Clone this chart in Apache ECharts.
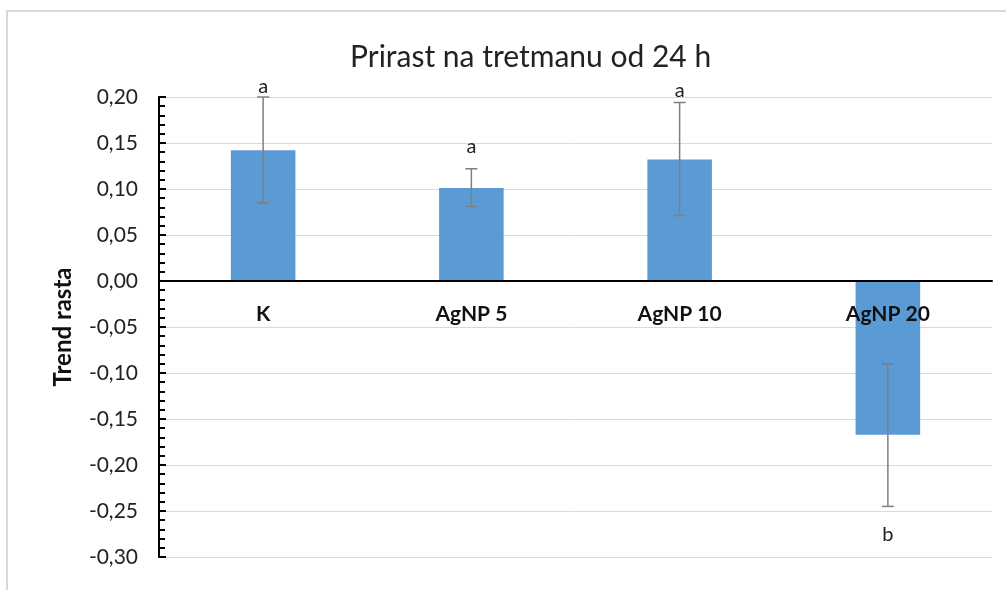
<!DOCTYPE html>
<html>
<head>
<meta charset="utf-8">
<script src="https://cdn.jsdelivr.net/npm/echarts@6/dist/echarts.min.js"></script>
<style>
  html, body { margin: 0; padding: 0; background: #fff; }
  #main { width: 1006px; height: 590px; }
</style>
</head>
<body>
<div id="main"></div>
<script>
const categories = ["K", "AgNP 5", "AgNP 10", "AgNP 20"];
const trendValues = [0.142, 0.101, 0.132, -0.167];
const errLow = [0.085, 0.081, 0.071, -0.245];
const errHigh = [0.200, 0.122, 0.194, -0.090];
const letters = ["a", "a", "a", "b"];
const letterPos = [0.211, 0.146, 0.207, -0.276];

const FONT = "Lato";
const fmt = v => v.toFixed(2).replace(".", ",");

const chartDom = document.getElementById("main");
const myChart = echarts.init(chartDom, null, { renderer: "canvas" });

const option = {
  animation: false,
  backgroundColor: "#fff",
  textStyle: { fontFamily: FONT },
  title: {
    text: "Prirast na tretmanu od 24 h",
    left: 345,
    top: 37,
    textStyle: { fontFamily: FONT, fontSize: 30, fontWeight: "normal", color: "#222" }
  },
  graphic: [{
    type: "rect",
    shape: { x: 7, y: 11, width: 1100, height: 700 },
    style: { fill: "none", stroke: "#d9d9d9", lineWidth: 2 },
    silent: true
  }],
  grid: { left: 159, right: 14, top: 97, bottom: 33, containLabel: false, outerBoundsMode: "none" },
  xAxis: {
    type: "category",
    data: categories,
    z: 10,
    axisLine: { onZero: true, lineStyle: { color: "#000", width: 2 } },
    axisTick: { show: false },
    axisLabel: { show: false }
  },
  yAxis: {
    type: "value",
    min: -0.3,
    max: 0.2,
    interval: 0.05,
    name: "Trend rasta",
    nameLocation: "middle",
    nameGap: 84,
    nameTextStyle: { fontFamily: FONT, fontSize: 24, fontWeight: "bold", color: "#111" },
    axisLine: { show: true, lineStyle: { color: "#000", width: 2 } },
    axisTick: { show: true, inside: true, length: 7, lineStyle: { color: "#000", width: 2 } },
    minorTick: { show: true, splitNumber: 5, length: 6, lineStyle: { color: "#000", width: 2 } },
    splitLine: { lineStyle: { color: "#d9d9d9", width: 1 } },
    axisLabel: { margin: 21, fontFamily: FONT, fontSize: 21, color: "#222", formatter: fmt }
  },
  series: [
    {
      type: "bar",
      data: trendValues,
      barWidth: "31%",
      itemStyle: { color: "#5b9bd5" }
    },
    {
      type: "custom",
      z: 5,
      data: categories.map((c, i) => [i, errLow[i], errHigh[i]]),
      renderItem: function (params, api) {
        const lo = api.coord([api.value(0), api.value(1)]);
        const hi = api.coord([api.value(0), api.value(2)]);
        const w = 6;
        const st = { stroke: "#7f7f7f", lineWidth: 1.5 };
        return {
          type: "group",
          children: [
            { type: "line", shape: { x1: lo[0], y1: lo[1], x2: hi[0], y2: hi[1] }, style: st },
            { type: "line", shape: { x1: lo[0] - w, y1: lo[1], x2: lo[0] + w, y2: lo[1] }, style: st },
            { type: "line", shape: { x1: hi[0] - w, y1: hi[1], x2: hi[0] + w, y2: hi[1] }, style: st }
          ]
        };
      }
    },
    {
      type: "custom",
      z: 6,
      data: categories.map((c, i) => [i, letterPos[i]]),
      renderItem: function (params, api) {
        const p = api.coord([api.value(0), api.value(1)]);
        return {
          type: "text",
          x: p[0],
          y: p[1],
          style: {
            text: letters[params.dataIndex],
            fontFamily: FONT,
            fontSize: 20,
            fill: "#222",
            align: "center",
            verticalAlign: "middle"
          }
        };
      }
    },
    {
      // category labels sit just under the zero line, over the bars
      type: "custom",
      z: 20,
      data: categories.map((c, i) => [i, 0]),
      renderItem: function (params, api) {
        const p = api.coord([api.value(0), 0]);
        return {
          type: "text",
          x: p[0],
          y: p[1] + 33,
          z2: 100,
          style: {
            text: categories[params.dataIndex],
            fontFamily: FONT,
            fontSize: 21,
            fontWeight: "bold",
            fill: "#111",
            align: "center",
            verticalAlign: "middle"
          }
        };
      }
    }
  ]
};

option && myChart.setOption(option);
</script>
</body>
</html>
